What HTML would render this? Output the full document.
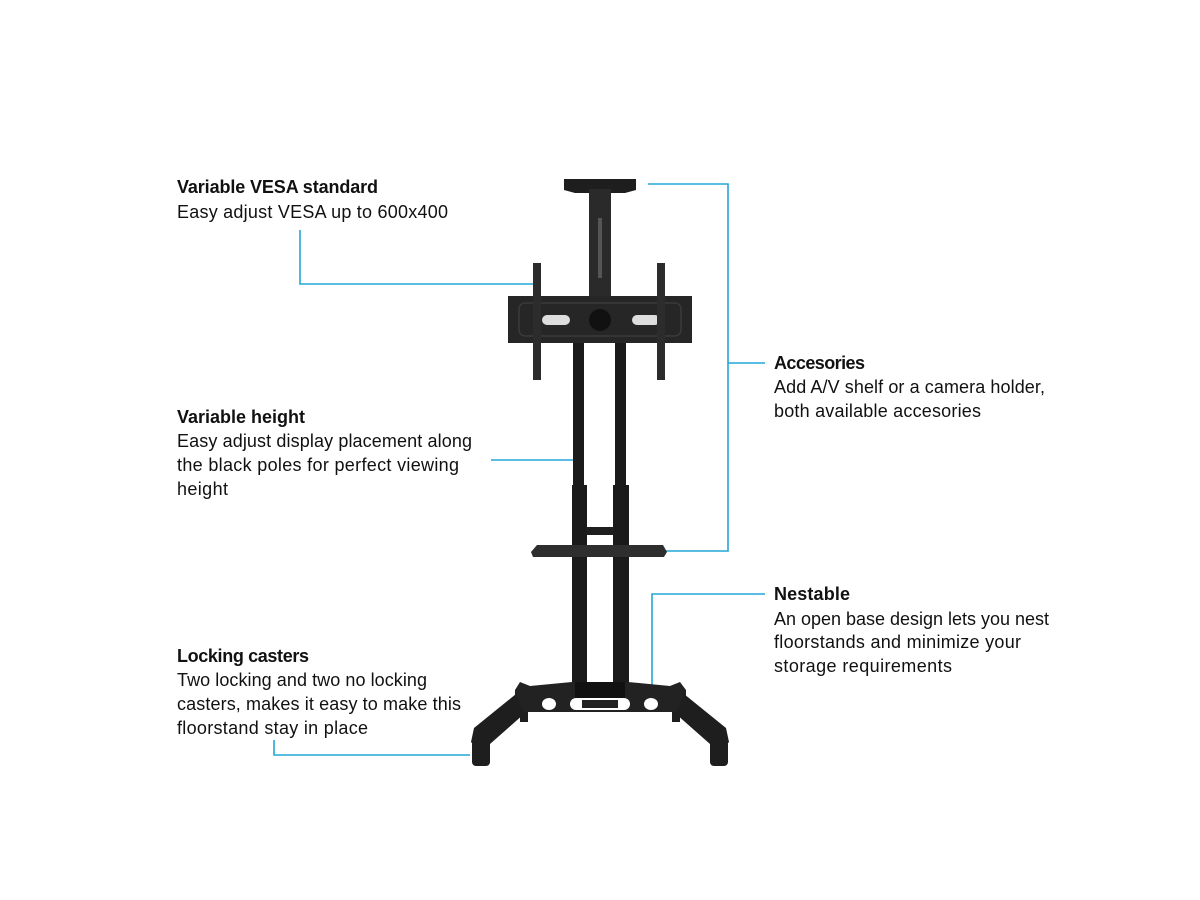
<!DOCTYPE html>
<html><head><meta charset="utf-8"><style>
html,body{margin:0;padding:0;background:#fff;}
svg{display:block;}
text{font-family:"Liberation Sans",sans-serif;font-size:18px;fill:#111;}
.b{font-weight:bold;}
</style></head><body>
<svg width="1200" height="900" viewBox="0 0 1200 900" xmlns="http://www.w3.org/2000/svg">
<rect width="1200" height="900" fill="#fff"/>
<g stroke="#22a7d8" stroke-width="1.6" fill="none">
<polyline points="300,230 300,284 540,284"/>
<polyline points="648,184 728,184 728,551 655,551"/>
<line x1="728" y1="363" x2="765" y2="363"/>
<line x1="491" y1="460" x2="580" y2="460"/>
<polyline points="765,594 652,594 652,690"/>
<polyline points="274,740 274,755 470,755"/>
</g>
<g fill="#1e1e1e">
<path d="M564,179 L636,179 L636,190 L625,193 L575,193 L564,190Z"/>
<rect x="589" y="189" width="22" height="110" fill="#2a2a2a"/>
<rect x="598" y="218" width="4" height="60" fill="#555"/>
<rect x="508" y="296" width="184" height="47" fill="#262626"/>
<rect x="519" y="303" width="162" height="33" rx="6" fill="none" stroke="#3a3a3a" stroke-width="1.5"/>
<rect x="542" y="315" width="28" height="10" rx="5" fill="#ddd"/>
<rect x="632" y="315" width="28" height="10" rx="5" fill="#ddd"/>
<circle cx="600" cy="320" r="11" fill="#111"/>
<rect x="533" y="263" width="8" height="117" fill="#2c2c2c"/>
<rect x="657" y="263" width="8" height="117" fill="#2c2c2c"/>
<rect x="573" y="343" width="11" height="145" fill="#1a1a1a"/>
<rect x="615" y="343" width="11" height="145" fill="#1a1a1a"/>
<rect x="572" y="485" width="15" height="205" fill="#1a1a1a"/>
<rect x="613" y="485" width="16" height="205" fill="#1a1a1a"/>
<rect x="586" y="527" width="28" height="8"/>
<path d="M537,545 L663,545 L667,552 L664,557 L533,557 L531,552Z" fill="#2e2e2e"/>
<path d="M515,690 L520,682 L530,686 L572,682 L628,682 L670,686 L680,682 L686,690 L686,712 L515,712Z" fill="#222"/>
<rect x="575" y="682" width="50" height="18" fill="#111"/>
<ellipse cx="549" cy="704" rx="7" ry="6" fill="#fff"/>
<ellipse cx="651" cy="704" rx="7" ry="6" fill="#fff"/>
<rect x="570" y="698" width="60" height="12" rx="6" fill="#fff"/>
<rect x="582" y="700" width="36" height="8" fill="#222"/>
<path d="M516,694 L524,714 L490,744 L478,750 L471,742 L474,728Z"/>
<path d="M684,694 L676,714 L710,744 L722,750 L729,742 L726,728Z"/>
<rect x="472" y="740" width="18" height="26" rx="4"/>
<rect x="710" y="740" width="18" height="26" rx="4"/>
<rect x="520" y="712" width="8" height="10"/>
<rect x="672" y="712" width="8" height="10"/>
</g>
<text class="b" x="177" y="193" textLength="201">Variable VESA standard</text>
<text x="177" y="218" textLength="271">Easy adjust VESA up to 600x400</text>
<text class="b" x="177" y="423" textLength="128">Variable height</text>
<text x="177" y="447" textLength="295">Easy adjust display placement along</text>
<text x="177" y="471" textLength="282">the black poles for perfect viewing</text>
<text x="177" y="495" textLength="51">height</text>
<text class="b" x="177" y="662" textLength="132">Locking casters</text>
<text x="177" y="686" textLength="250">Two locking and two no locking</text>
<text x="177" y="710" textLength="284">casters, makes it easy to make this</text>
<text x="177" y="734" textLength="191">floorstand stay in place</text>
<text class="b" x="774" y="369" textLength="91">Accesories</text>
<text x="774" y="393" textLength="271">Add A/V shelf or a camera holder,</text>
<text x="774" y="417" textLength="207">both available accesories</text>
<text class="b" x="774" y="600" textLength="76">Nestable</text>
<text x="774" y="625" textLength="275">An open base design lets you nest</text>
<text x="774" y="648" textLength="247">floorstands and minimize your</text>
<text x="774" y="672" textLength="178">storage requirements</text>
</svg>
</body></html>
